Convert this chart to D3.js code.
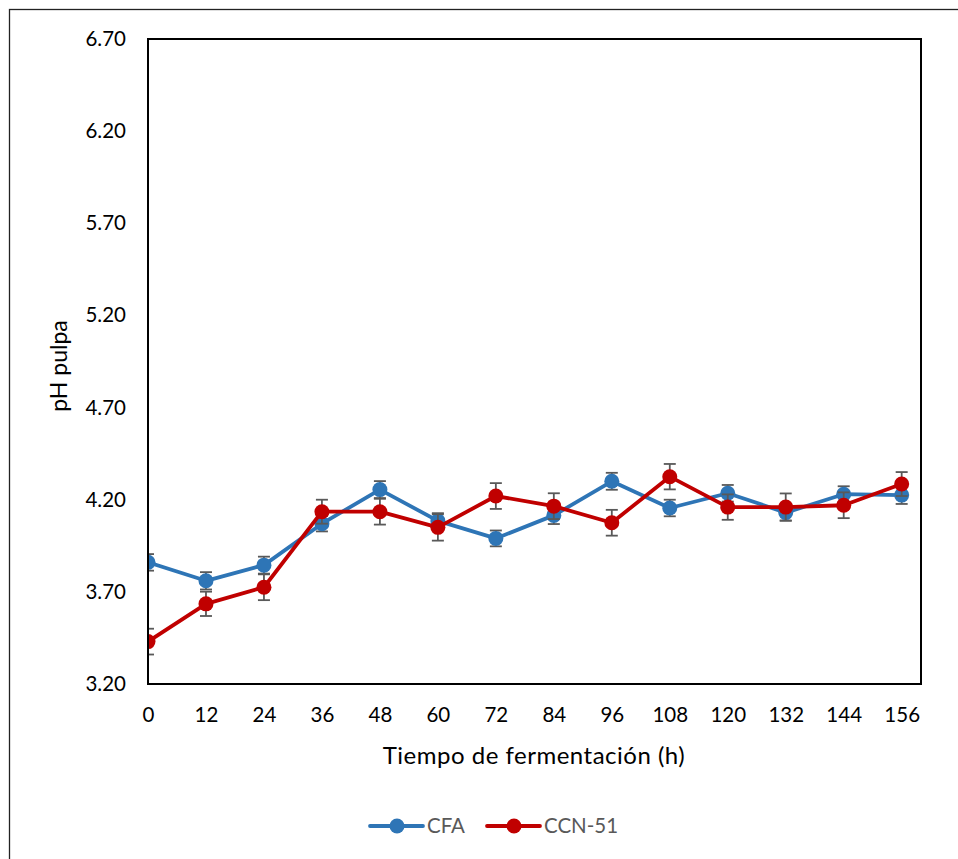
<!DOCTYPE html>
<html>
<head>
<meta charset="utf-8">
<script src="https://cdn.jsdelivr.net/npm/d3@7"></script>
<style>
  html, body { margin: 0; padding: 0; background: #fff; }
  svg { display: block; font-family: Lato, "Liberation Sans", sans-serif; }
</style>
</head>
<body>
<svg id="chart" width="958" height="859"></svg>
<script>
const hours = [0, 12, 24, 36, 48, 60, 72, 84, 96, 108, 120, 132, 144, 156];
const cfaValues = [3.86, 3.76, 3.845, 4.07, 4.255, 4.085, 3.99, 4.115, 4.30, 4.155, 4.235, 4.13, 4.23, 4.225];
const cfaErrors = [0.045, 0.047, 0.046, 0.042, 0.046, 0.042, 0.043, 0.047, 0.046, 0.045, 0.045, 0.043, 0.043, 0.048];
const ccnValues = [3.43, 3.635, 3.725, 4.135, 4.135, 4.05, 4.22, 4.165, 4.075, 4.325, 4.16, 4.16, 4.17, 4.285];
const ccnErrors = [0.07, 0.066, 0.07, 0.065, 0.07, 0.072, 0.07, 0.07, 0.07, 0.069, 0.069, 0.074, 0.07, 0.065];
const yTicks = [3.20, 3.70, 4.20, 4.70, 5.20, 5.70, 6.20, 6.70];
const seriesNames = ["CFA", "CCN-51"];
const seriesColors = ["#2E75B6", "#C00000"];

const svg = d3.select("#chart");
const W = 958, H = 859;
const margin = { left: 148, top: 39, right: W - 921, bottom: H - 684 };
const pw = W - margin.left - margin.right;
const ph = H - margin.top - margin.bottom;

// outer chart border
svg.append("rect").attr("x", 9.5).attr("y", 9.5).attr("width", 970).attr("height", 870)
  .attr("fill", "none").attr("stroke", "#222").attr("stroke-width", 1.3);

const x = d3.scaleLinear().domain([0, 160]).range([margin.left, margin.left + pw]);
const y = d3.scaleLinear().domain([3.2, 6.7]).range([margin.top + ph, margin.top]);

svg.append("defs").append("clipPath").attr("id", "clip")
  .append("rect").attr("x", margin.left).attr("y", margin.top).attr("width", pw).attr("height", ph);

// Axes (labels only)
const yAxis = d3.axisLeft(y).tickValues(yTicks).tickFormat(d3.format(".2f")).tickSize(0).tickPadding(0);
const gy = svg.append("g").attr("transform", `translate(${margin.left - 22},0)`).call(yAxis);
gy.select(".domain").remove();
gy.selectAll("text").attr("font-size", 20.5).attr("fill", "#000").attr("font-family", "Lato");

const xAxis = d3.axisBottom(x).tickValues(hours).tickFormat(d3.format("d")).tickSize(0).tickPadding(0);
const gx = svg.append("g").attr("transform", `translate(0,${margin.top + ph + 23})`).call(xAxis);
gx.select(".domain").remove();
gx.selectAll("text").attr("font-size", 20.5).attr("fill", "#000").attr("font-family", "Lato");

// axis titles
svg.append("text").attr("x", 534).attr("y", 764).attr("text-anchor", "middle")
  .attr("font-size", 24).attr("letter-spacing", 0.5).attr("fill", "#000").text("Tiempo de fermentación (h)");
svg.append("text").attr("transform", "translate(67,366) rotate(-90)").attr("text-anchor", "middle")
  .attr("font-size", 23).attr("fill", "#000").text("pH pulpa");

const plot = svg.append("g").attr("clip-path", "url(#clip)");
const series = [
  { name: seriesNames[0], color: seriesColors[0], values: cfaValues, errors: cfaErrors },
  { name: seriesNames[1], color: seriesColors[1], values: ccnValues, errors: ccnErrors }
];
const line = d3.line().x(d => x(d.h)).y(d => y(d.v));

series.forEach(s => {
  const pts = hours.map((h, i) => ({ h, v: s.values[i], e: s.errors[i] }));
  const g = plot.append("g");
  const eb = g.selectAll(".eb").data(pts).enter().append("g").attr("stroke", "#595959").attr("stroke-width", 1.8);
  eb.append("line").attr("x1", d => x(d.h)).attr("x2", d => x(d.h))
    .attr("y1", d => y(d.v - d.e)).attr("y2", d => y(d.v + d.e));
  eb.append("line").attr("x1", d => x(d.h) - 6).attr("x2", d => x(d.h) + 6)
    .attr("y1", d => y(d.v - d.e)).attr("y2", d => y(d.v - d.e));
  eb.append("line").attr("x1", d => x(d.h) - 6).attr("x2", d => x(d.h) + 6)
    .attr("y1", d => y(d.v + d.e)).attr("y2", d => y(d.v + d.e));
  g.append("path").datum(pts).attr("d", line).attr("fill", "none")
    .attr("stroke", s.color).attr("stroke-width", 3.8).attr("stroke-linejoin", "round");
  g.selectAll("circle").data(pts).enter().append("circle")
    .attr("cx", d => x(d.h)).attr("cy", d => y(d.v)).attr("r", 7.5).attr("fill", s.color);
});

svg.append("rect").attr("x", margin.left).attr("y", margin.top).attr("width", pw).attr("height", ph)
  .attr("fill", "none").attr("stroke", "#000").attr("stroke-width", 2);

// legend
const legendItems = [
  { name: seriesNames[0], color: seriesColors[0], x0: 370 },
  { name: seriesNames[1], color: seriesColors[1], x0: 487 }
];
const lg = svg.append("g");
legendItems.forEach(it => {
  lg.append("line").attr("x1", it.x0).attr("x2", it.x0 + 53).attr("y1", 826).attr("y2", 826)
    .attr("stroke", it.color).attr("stroke-width", 3.8).attr("stroke-linecap", "round");
  lg.append("circle").attr("cx", it.x0 + 27).attr("cy", 826).attr("r", 7.5).attr("fill", it.color);
  lg.append("text").attr("x", it.x0 + 57).attr("y", 833).attr("font-size", 20.5).attr("fill", "#595959").text(it.name);
});
</script>
</body>
</html>
